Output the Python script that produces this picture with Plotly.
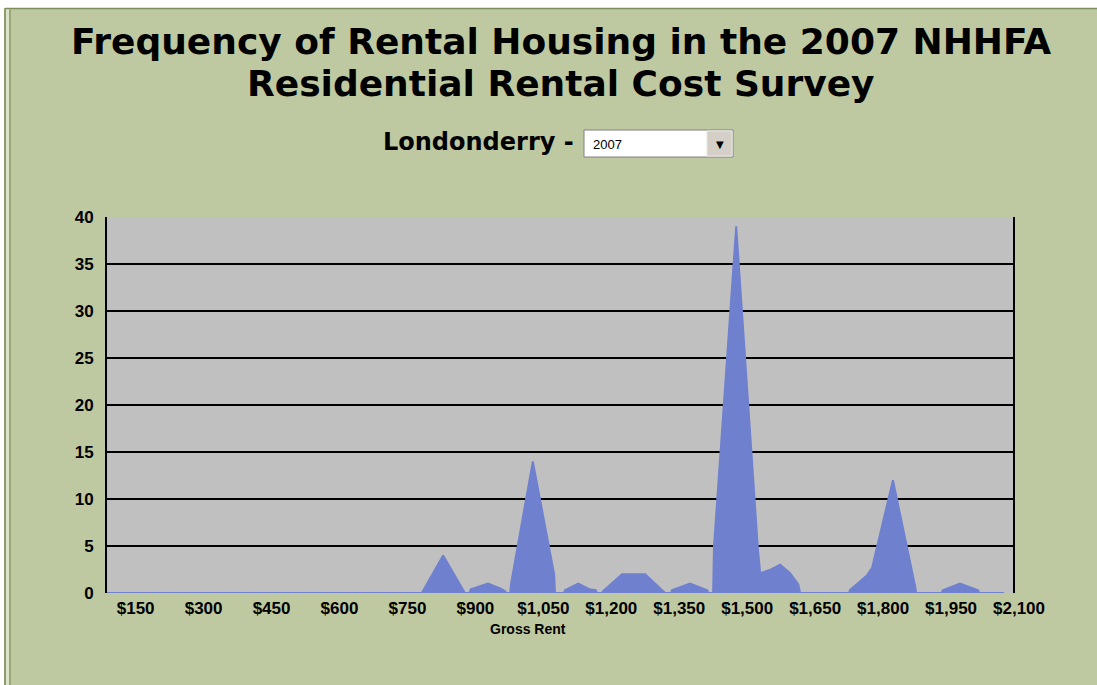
import plotly.graph_objects as go

# ---- data ----
rent = [100, 795, 842, 888, 890, 900, 903, 941, 968, 979, 981,
        990, 992, 1040, 1087, 1089,
        1109, 1111, 1140, 1165, 1179, 1181,
        1193, 1195, 1237, 1288, 1332,
        1345, 1347, 1387, 1425, 1427,
        1438, 1440, 1489, 1537, 1542, 1566, 1586, 1608, 1626, 1630,
        1738, 1740, 1778, 1789, 1835, 1884, 1886,
        1943, 1945, 1983, 2023, 2025, 2080]
count = [0, 0, 4, 0.3, 0, 0, 0.4, 1, 0.5, 0.2, 0,
         0, 1, 14, 2, 0,
         0, 0.3, 1, 0.4, 0.3, 0,
         0, 0.2, 2, 2, 0,
         0, 0.3, 1, 0.3, 0,
         0, 5, 39, 4.6, 2.1, 2.5, 3, 2.1, 0.9, 0,
         0, 0.3, 1.9, 2.7, 12, 0.7, 0,
         0, 0.3, 1, 0.3, 0, 0]

tick_vals = [150, 300, 450, 600, 750, 900, 1050, 1200, 1350, 1500, 1650, 1800, 1950, 2100]
tick_text = ["$150", "$300", "$450", "$600", "$750", "$900", "$1,050", "$1,200",
             "$1,350", "$1,500", "$1,650", "$1,800", "$1,950", "$2,100"]
y_ticks = [0, 5, 10, 15, 20, 25, 30, 35, 40]

title_1 = "Frequency of Rental Housing in the 2007 NHHFA"
title_2 = "Residential Rental Cost Survey"
town = "Londonderry -"
year = "2007"
x_title = "Gross Rent"

# ---- layout geometry (pixels) ----
W, H = 1097, 685
L, R, T, B = 107, 1013, 217, 593
PW, PH = R - L, B - T

def px(x):
    return (x - L) / PW

def py(y):
    return (B - y) / PH

OLIVE = "#BFC9A1"
BLUE = "#6F80CF"
GRAY = "#C0C0C0"

fig = go.Figure()
fig.add_trace(go.Scatter(
    x=rent, y=count, mode="lines", fill="tozeroy",
    line=dict(color=BLUE, width=2, shape="linear"),
    fillcolor=BLUE, hoverinfo="x+y", showlegend=False,
))

shapes = [
    # white margins top/left
    dict(type="rect", xref="paper", yref="paper", x0=px(-5), x1=px(W + 5), y0=py(8), y1=py(-5),
         fillcolor="white", line=dict(width=0), layer="below"),
    dict(type="rect", xref="paper", yref="paper", x0=px(-5), x1=px(4), y0=py(H + 5), y1=py(-5),
         fillcolor="white", line=dict(width=0), layer="below"),
    # frame lines
    dict(type="line", xref="paper", yref="paper", x0=px(5), x1=px(W + 5), y0=py(8.5), y1=py(8.5),
         line=dict(color="#7E8E5A", width=1.5)),
    dict(type="line", xref="paper", yref="paper", x0=px(5), x1=px(5), y0=py(8.5), y1=py(H + 5),
         line=dict(color="#7E8E5A", width=1.5)),
    dict(type="rect", xref="paper", yref="paper", x0=px(6), x1=px(9), y0=py(H + 5), y1=py(9.5),
         fillcolor="#DCE2C8", line=dict(width=0)),
    dict(type="line", xref="paper", yref="paper", x0=px(10), x1=px(10), y0=py(9.5), y1=py(H + 5),
         line=dict(color="#8E9C6A", width=1.5)),
    # dropdown box
    dict(type="rect", xref="paper", yref="paper", x0=px(584), x1=px(733), y0=py(157), y1=py(130),
         fillcolor="white", line=dict(color="#808080", width=1)),
    dict(type="rect", xref="paper", yref="paper", x0=px(707), x1=px(732), y0=py(156), y1=py(131),
         fillcolor="#D4D0C8", line=dict(color="#E8E6E0", width=1)),
]

annotations = [
    dict(text="<b>" + title_1 + "</b>", xref="paper", yref="paper", x=px(561), y=py(42),
         showarrow=False, xanchor="center", yanchor="middle",
         font=dict(family="DejaVu Sans", size=36, color="black")),
    dict(text="<b>" + title_2 + "</b>", xref="paper", yref="paper", x=px(561), y=py(84),
         showarrow=False, xanchor="center", yanchor="middle",
         font=dict(family="DejaVu Sans", size=36, color="black")),
    dict(text="<b>" + town + "</b>", xref="paper", yref="paper", x=px(576), y=py(142),
         showarrow=False, xanchor="right", yanchor="middle",
         font=dict(family="DejaVu Sans", size=24, color="black")),
    dict(text=year, xref="paper", yref="paper", x=px(591), y=py(144),
         showarrow=False, xanchor="left", yanchor="middle",
         font=dict(family="Liberation Sans", size=13, color="black")),
    dict(text="▼", xref="paper", yref="paper", x=px(719.5), y=py(144),
         showarrow=False, xanchor="center", yanchor="middle",
         font=dict(family="DejaVu Sans", size=10, color="black")),
    dict(text="<b>" + x_title + "</b>", xref="paper", yref="paper", x=px(528), y=py(629),
         showarrow=False, xanchor="center", yanchor="middle",
         font=dict(family="Liberation Sans", size=14, color="black")),
]

fig.update_layout(
    width=W, height=H,
    margin=dict(l=L, r=W - R, t=T, b=H - B, pad=0),
    paper_bgcolor=OLIVE, plot_bgcolor=GRAY,
    shapes=shapes, annotations=annotations,
    showlegend=False,
    xaxis=dict(range=[100, 2100], tickmode="array", tickvals=tick_vals,
               ticktext=["<b>" + t + "</b>" for t in tick_text],
               showgrid=False, zeroline=False, showline=False, ticks="",
               ticklabelshift=6, ticklabelstandoff=3,
               tickfont=dict(family="Liberation Sans", size=17, color="black"),
               fixedrange=True),
    yaxis=dict(range=[0, 40], tickmode="array", tickvals=y_ticks,
               ticktext=["<b>%d</b>" % v for v in y_ticks],
               showgrid=True, gridcolor="black", gridwidth=2, zeroline=False,
               showline=True, linecolor="black", linewidth=2, mirror=True,
               ticks="", ticklabelstandoff=8,
               tickfont=dict(family="Liberation Sans", size=17, color="black"), fixedrange=True),
)

fig.write_html("out.html", config={"displayModeBar": False},
               post_script="document.body.style.margin='0';document.body.style.overflow='hidden';")
